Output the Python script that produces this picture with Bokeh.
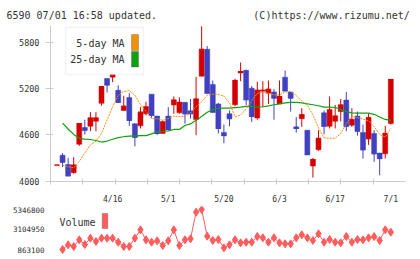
from bokeh.plotting import figure
from bokeh.models import (ColumnDataSource, Range1d, FixedTicker, BoxAnnotation,
                          Label, PrintfTickFormatter, Title)
from bokeh.layouts import column
from bokeh.embed import file_html
from bokeh.resources import INLINE

# ---- daily prices (trading-day index 0..60) ----
days = list(range(61))
opens = [4209, 4336, 4216, 4111, 4480, 4696, 4713, 4777, 5011, 5333,
         5349, 5180, 4917, 5087, 4745, 4718, 4875, 5129, 4845, 4620,
         4845, 4989, 4887, 5023, 4913, 4802, 5362, 5711, 5256, 5002,
         4633, 4875, 4993, 5405, 5438, 5206, 4820, 5167, 5142, 5158,
         5002, 5349, 5158, 4705, 4811, 4662, 4196, 4407, 4887, 4713,
         4777, 4904, 5053, 4726, 4845, 4633, 4547, 4620, 4365, 4356,
         4747]
highs = [4209, 4365, 4302, 4311, 4747, 4798, 4896, 4896, 5227, 5333,
         5533, 5244, 5108, 5142, 4750, 4964, 5031, 5129, 4845, 4789,
         4960, 5100, 5087, 5023, 5066, 5354, 6010, 5753, 5307, 5015,
         4735, 4917, 5329, 5540, 5447, 5235, 5291, 5298, 5307, 5193,
         5307, 5435, 5158, 4833, 4947, 4662, 4302, 4662, 4917, 5100,
         4989, 5066, 5158, 4947, 4904, 4735, 4875, 4662, 4365, 4718,
         5320]
lows = [4209, 4183, 4069, 4098, 4458, 4607, 4649, 4649, 4980, 5151,
        5286, 5023, 4917, 4718, 4451, 4684, 4853, 4824, 4598, 4620,
        4671, 4875, 4875, 4747, 4811, 4598, 5362, 5142, 4896, 4620,
        4493, 4713, 4973, 5298, 4989, 4769, 4798, 4960, 5002, 4798,
        5002, 5171, 4904, 4629, 4705, 4344, 4047, 4395, 4607, 4684,
        4684, 4777, 4649, 4705, 4591, 4293, 4471, 4251, 4076, 4293,
        4735]
closes = [4209, 4247, 4069, 4209, 4747, 4662, 4820, 4820, 5227, 5248,
          5426, 5023, 4973, 4789, 4570, 4896, 4964, 4853, 4620, 4769,
          4671, 5053, 5023, 4875, 4875, 5066, 5711, 5142, 4896, 4684,
          4591, 4811, 5307, 5422, 5057, 4840, 5180, 5180, 5193, 5078,
          5100, 5171, 5078, 4684, 4862, 4344, 4280, 4556, 4713, 4925,
          4845, 4989, 4713, 4798, 4649, 4407, 4824, 4356, 4293, 4620,
          5320]

# moving averages as published (days 1..60)
ma_days = list(range(1, 61))
ma5 = [4206, 4187, 4174, 4255, 4368, 4471, 4518, 4622, 4794, 4967,
       5113, 5165, 5174, 5116, 4993, 4904, 4811, 4811, 4792, 4811,
       4844, 4840, 4843, 4885, 4967, 5031, 5116, 5129, 5125, 5104,
       5015, 4836, 4857, 4938, 5040, 5139, 5162, 5139, 5120, 5120,
       5160, 5161, 5111, 5041, 4983, 4862, 4690, 4563, 4556, 4559,
       4617, 4749, 4841, 4825, 4805, 4785, 4709, 4607, 4572, 4683]
ma25 = [4754, 4677, 4607, 4556, 4547, 4541, 4528, 4508, 4521, 4544,
        4566, 4577, 4584, 4589, 4591, 4591, 4614, 4639, 4645, 4652,
        4671, 4671, 4722, 4743, 4792, 4840, 4894, 4925, 4947, 4947,
        4948, 4955, 4961, 4971, 4970, 4962, 4966, 4978, 4992, 5002,
        5015, 5023, 5023, 5015, 5003, 4992, 4979, 4962, 4960, 4956,
        4931, 4903, 4887, 4883, 4883, 4883, 4868, 4833, 4801, 4789]

# daily volume (days 1..60)
vol_days = list(range(1, 61))
volumes = [863100, 1386000, 1199000, 1947000, 1424000, 2134000, 1760000, 2134000, 2134000, 2134000,
           1685000, 1199000, 1199000, 2134000, 3068000, 1947000, 1685000, 1835000, 1311000, 1835000,
           3068000, 1311000, 1947000, 2059000, 5048000, 5346800, 2358000, 1872000, 1984000, 1050000,
           1386000, 1947000, 1610000, 1685000, 1685000, 2320000, 2171000, 1685000, 2171000, 1610000,
           1498000, 1498000, 2171000, 2507000, 2171000, 1872000, 2619000, 1685000, 1984000, 1685000,
           1610000, 2320000, 1685000, 1984000, 1947000, 2171000, 2320000, 1872000, 3068000, 2806000]

price_ticks = [4000, 4600, 5200, 5800]
date_ticks = [10, 20, 30, 40, 50, 60]
date_labels = ["4/16", "5/1", "5/20", "6/3", "6/17", "7/1"]
vol_ticks = [863100, 3104950, 5346800]

UP = "#d40000"
DOWN = "#4040c0"
MA5_C = "#f0900a"
MA25_C = "#10a010"
VOL_C = "#ff5c5c"
AXIS_C = "#cccccc"
TEXT_C = "#333333"
FONT = "DejaVu Sans Mono"

# header line: update stamp on the left, site credit on the right
# (non-breaking spaces keep the gap between the two parts in monospace)
header = "6590 07/01 16:58 updated." + "\u00a0" * 16 + "(C)https://www.rizumu.net/"


def bare(fig):
    fig.outline_line_color = None
    fig.grid.visible = False


def screen_box(fig, left, right, top, bottom, fill, line, lw):
    fig.add_layout(BoxAnnotation(left=left, right=right, top=top, bottom=bottom,
                                 left_units="screen", right_units="screen",
                                 top_units="screen", bottom_units="screen",
                                 fill_color=fill, fill_alpha=1.0,
                                 line_color=line, line_width=lw))


# ---- price panel ----
colors = [UP if c >= o else DOWN for o, c in zip(opens, closes)]
src = ColumnDataSource(dict(
    x=days, o=opens, h=highs, l=lows, c=closes,
    top=[max(o, c) for o, c in zip(opens, closes)],
    bot=[min(o, c) for o, c in zip(opens, closes)],
    x0=[d - 0.45 for d in days], x1=[d + 0.45 for d in days],
    color=colors,
))

x_range = Range1d(-1.168, 62.64)

p = figure(width=420, height=206, x_range=x_range, y_range=Range1d(3996, 6020),
           output_backend="svg", toolbar_location=None,
           min_border_left=50, min_border_right=15, min_border_top=25,
           min_border_bottom=22, background_fill_color="white",
           border_fill_color="white",
           title=Title(text=header, align="left", offset=-44, standoff=9,
                       text_font=FONT, text_font_size="10px",
                       text_font_style="normal", text_color=TEXT_C))
bare(p)

# candles
p.segment(x0="x", y0="l", x1="x", y1="h", color="color", line_width=1, source=src)
p.vbar(x="x", width=0.9, top="top", bottom="bot", fill_color="color",
       line_color="color", line_width=0.5, source=src)
p.segment(x0="x0", y0="c", x1="x1", y1="c", color="color", line_width=1, source=src)

# moving averages
p.line(ma_days, ma25, color=MA25_C, line_width=1.2)
p.line(ma_days, ma5, color=MA5_C, line_width=1, line_dash="2 1")

# axes
mark_ticks = [-1.168 + k * 5.801 for k in range(12)]
xa = p.xaxis[0]
xa.ticker = FixedTicker(ticks=date_ticks, minor_ticks=mark_ticks)
xa.major_label_overrides = {t: s for t, s in zip(date_ticks, date_labels)}
xa.major_tick_in = 0
xa.major_tick_out = 0
xa.minor_tick_in = 3
xa.minor_tick_out = 3
xa.minor_tick_line_color = AXIS_C
xa.axis_line_color = AXIS_C
xa.major_label_standoff = 10
xa.major_label_text_font = FONT
xa.major_label_text_font_size = "8px"
xa.major_label_text_color = TEXT_C

ya = p.yaxis[0]
ya.ticker = FixedTicker(ticks=price_ticks)
ya.major_tick_in = 3
ya.major_tick_out = 5
ya.minor_tick_line_color = None
ya.major_tick_line_color = AXIS_C
ya.axis_line_color = AXIS_C
ya.major_label_standoff = 6
ya.major_label_text_font = FONT
ya.major_label_text_font_size = "8.5px"
ya.major_label_text_color = TEXT_C

# legend box
screen_box(p, 15, 93, 154, 107, "white", "#d8d8d8", 1.5)
p.add_layout(Label(x=74, y=138, x_units="screen", y_units="screen", text="5-day MA",
                   text_font=FONT, text_font_size="10px", text_align="right",
                   text_baseline="middle", text_color=TEXT_C))
p.add_layout(Label(x=74, y=122, x_units="screen", y_units="screen", text="25-day MA",
                   text_font=FONT, text_font_size="10px", text_align="right",
                   text_baseline="middle", text_color=TEXT_C))
screen_box(p, 81, 88, 147, 131, MA5_C, "#444444", 1)
screen_box(p, 81, 88, 130, 114.5, MA25_C, "#444444", 1)

# ---- volume panel ----
v = figure(width=420, height=53, x_range=x_range, y_range=Range1d(190548, 5683056),
           output_backend="svg", toolbar_location=None, x_axis_location=None,
           min_border_left=50, min_border_right=15, min_border_top=0,
           min_border_bottom=4, background_fill_color="white",
           border_fill_color="white")
bare(v)
v.line(vol_days, volumes, color=VOL_C, line_width=1)
v.scatter(vol_days, volumes, marker="diamond", size=8, color=VOL_C)

va = v.yaxis[0]
va.ticker = FixedTicker(ticks=vol_ticks)
va.formatter = PrintfTickFormatter(format="%d")
va.axis_line_color = None
va.major_tick_line_color = None
va.minor_tick_line_color = None
va.major_tick_out = 0
va.major_tick_in = 0
va.major_label_standoff = 6
va.major_label_text_font = FONT
va.major_label_text_font_size = "7.5px"
va.major_label_text_color = TEXT_C

v.add_layout(Label(x=9, y=33, x_units="screen", y_units="screen", text="Volume",
                   text_font=FONT, text_font_size="10px", text_baseline="middle",
                   text_color=TEXT_C))
screen_box(v, 51.7, 57.3, 42, 27, VOL_C, "#444444", 1)

layout = column(p, v, spacing=0)
open("out.html", "w").write(file_html(layout, INLINE))
